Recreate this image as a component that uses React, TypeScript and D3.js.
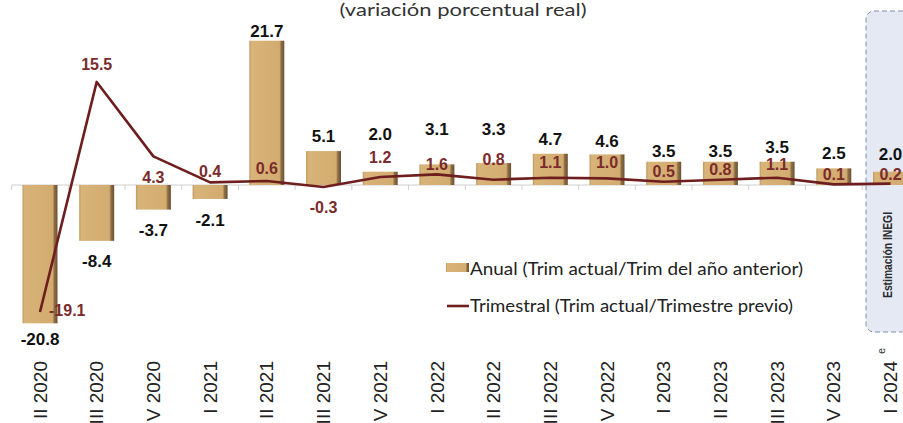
import React from "react";
import * as d3 from "d3";

const categories = [
  "II 2020", "III 2020", "IV 2020", "I 2021", "II 2021", "III 2021", "IV 2021", "I 2022",
  "II 2022", "III 2022", "IV 2022", "I 2023", "II 2023", "III 2023", "IV 2023", "I 2024",
];
const annualValues = [-20.8, -8.4, -3.7, -2.1, 21.7, 5.1, 2.0, 3.1, 3.3, 4.7, 4.6, 3.5, 3.5, 3.5, 2.5, 2.0];
const quarterlyValues = [-19.1, 15.5, 4.3, 0.4, 0.6, -0.3, 1.2, 1.6, 0.8, 1.1, 1.0, 0.5, 0.8, 1.1, 0.1, 0.2];
const estimatedCategory = "I 2024";
const titleText = "(variación porcentual real)";
const legendAnnual = "Anual (Trim actual/Trim del año anterior)";
const legendQuarterly = "Trimestral (Trim actual/Trimestre previo)";
const estimateText = "Estimación INEGI";

// label nudges (layout only)
const lineLabelDy = [4, -12, 27, -5, -7, 26, -14, -4, -15, -10, -10, -5, -5, -8, -4, -4];
const barLabelDy = [22, 26, 26, 27, -4, -9, -32, -29, -28, -9, -7, -5, -5, -9, -9, -12];

const W = 903;
const H = 423;
const LINE_COLOR = "#6E1E1E";
const LINE_LABEL = "#7B2B2B";

export default function App() {
  const x = d3
    .scaleBand<string>()
    .domain(categories)
    .range([11.65, 918.85])
    .paddingInner(0.383)
    .paddingOuter(0.1915);
  const y = d3.scaleLinear().domain([-25, 25]).range([351.25, 18.75]);
  const step = x.step();
  const r0 = x.range()[0];
  const cx = (c: string) => (x(c) as number) + x.bandwidth() / 2;

  const line = d3
    .line<number>()
    .x((_, i) => cx(categories[i]))
    .y((d) => y(d))
    .curve(d3.curveLinear);

  const boxX = 866;
  const numFont = "'Liberation Sans', Arial, sans-serif";
  const textFont = "Lato, 'Open Sans', sans-serif";

  return (
    <svg
      width={W}
      height={H}
      style={{ position: "absolute", left: 0, top: 0, background: "#fff" }}
    >
      <defs>
        <linearGradient id="barGrad" x1="0" x2="1" y1="0" y2="0">
          <stop offset="0%" stopColor="#BE9860" />
          <stop offset="6%" stopColor="#D8B479" />
          <stop offset="86%" stopColor="#D2AB6F" />
          <stop offset="91%" stopColor="#8E6E45" />
          <stop offset="100%" stopColor="#6A5033" />
        </linearGradient>
      </defs>

      {/* title */}
      <text
        x={463}
        y={16}
        textAnchor="middle"
        fontFamily={textFont}
        fontSize={17}
        fill="#333"
        textLength={247}
        lengthAdjust="spacingAndGlyphs"
      >
        {titleText}
      </text>

      {/* axis line and ticks */}
      <line x1={r0} x2={boxX} y1={y(0)} y2={y(0)} stroke="#cfcfcf" strokeWidth={1.2} />
      {d3.range(categories.length + 1).map((i) => (
        <line
          key={"t" + i}
          x1={r0 + i * step}
          x2={r0 + i * step}
          y1={y(0)}
          y2={y(0) + 5}
          stroke="#cfcfcf"
          strokeWidth={1}
        />
      ))}

      {/* estimate box */}
      <rect
        x={boxX}
        y={11}
        width={70}
        height={321}
        rx={8}
        fill="#E5E9F4"
        stroke="#7F8FAE"
        strokeWidth={1}
        strokeDasharray="5,3"
      />
      <text
        transform={`translate(888,255) rotate(-90)`}
        textAnchor="middle"
        fontFamily={numFont}
        fontWeight="bold"
        fontSize={12}
        fill="#2a2a2a"
        dy="0.35em"
        textLength={86}
        lengthAdjust="spacingAndGlyphs"
      >
        {estimateText}
      </text>

      {/* bars */}
      {annualValues.map((v, i) => {
        const c = categories[i];
        const y0 = y(0);
        const yv = y(v);
        return (
          <rect
            key={"b" + i}
            x={x(c)}
            y={Math.min(y0, yv)}
            width={x.bandwidth()}
            height={Math.abs(yv - y0)}
            fill="url(#barGrad)"
          />
        );
      })}

      {/* line */}
      <path d={line(quarterlyValues) || ""} fill="none" stroke={LINE_COLOR} strokeWidth={2.6} strokeLinejoin="round" />

      {/* bar labels */}
      {annualValues.map((v, i) => {
        const end = y(v);
        return (
          <text
            key={"bl" + i}
            x={cx(categories[i])}
            y={end + barLabelDy[i]}
            textAnchor="middle"
            fontFamily={numFont}
            fontWeight="bold"
            fontSize={17}
            fill="#111"
          >
            {v.toFixed(1)}
          </text>
        );
      })}

      {/* line labels */}
      {quarterlyValues.map((v, i) => {
        const right = i === 0;
        return (
          <text
            key={"ll" + i}
            x={cx(categories[i]) + (right ? 9 : 0)}
            y={y(v) + lineLabelDy[i]}
            textAnchor={right ? "start" : "middle"}
            fontFamily={numFont}
            fontWeight="bold"
            fontSize={16}
            fill={LINE_LABEL}
          >
            {v.toFixed(1)}
          </text>
        );
      })}

      {/* x labels */}
      {categories.map((c) => (
        <g key={"xl" + c} transform={`translate(${cx(c)},361) rotate(-90)`}>
          <text textAnchor="end" dy="0.35em" fontFamily={numFont} fontSize={19} fill="#222">
            {c}
          </text>
          {c === estimatedCategory && (
            <text x={7} y={-6} textAnchor="start" fontFamily={numFont} fontSize={11} fill="#333">
              e
            </text>
          )}
        </g>
      ))}

      {/* legend */}
      <rect x={446} y={263} width={23} height={9} fill="url(#barGrad)" />
      <text
        x={470}
        y={275}
        fontFamily={textFont}
        fontSize={17}
        fill="#222"
        textLength={333}
        lengthAdjust="spacingAndGlyphs"
      >
        {legendAnnual}
      </text>
      <line x1={447} x2={469} y1={306} y2={306} stroke={LINE_COLOR} strokeWidth={2.6} />
      <text
        x={470}
        y={312}
        fontFamily={textFont}
        fontSize={17}
        fill="#222"
        textLength={323}
        lengthAdjust="spacingAndGlyphs"
      >
        {legendQuarterly}
      </text>
    </svg>
  );
}
